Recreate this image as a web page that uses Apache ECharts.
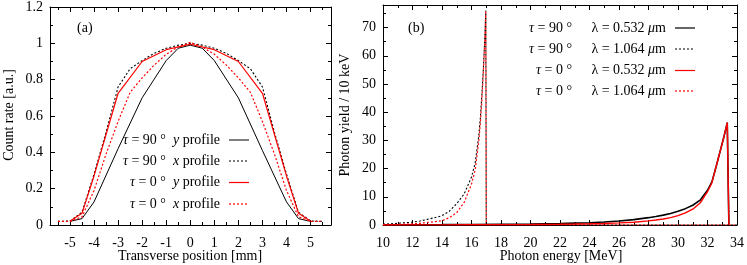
<!DOCTYPE html>
<html><head><meta charset="utf-8">
<script src="https://cdn.jsdelivr.net/npm/echarts@6/dist/echarts.min.js"></script>
<style>html,body{margin:0;padding:0;background:#fff}#c{width:747px;height:265px}</style>
</head><body><div id="c"></div>
<script>
// ---------- Panel (a) data: transverse profiles ----------
const posT90y = [-5,-4.5,-4,-3,-2,-1,-0.5,0,0.5,1,2,3,4,4.5,5];
const rateT90y = [0.02,0.035,0.127,0.42,0.70,0.905,0.973,0.99,0.973,0.905,0.70,0.41,0.127,0.035,0.02];
const posT90x = [-5.5,-5,-4.5,-4,-3.5,-3,-2.5,-2,-1.5,-1,-0.5,0,0.5,1,1.5,2,2.5,3,3.5,4,4.5,5,5.5];
const rateT90x = [0.02,0.022,0.07,0.28,0.51,0.76,0.86,0.905,0.945,0.973,0.99,1.0,0.99,0.973,0.945,0.905,0.86,0.76,0.51,0.28,0.07,0.022,0.02];
const posT0y = [-5,-4.5,-4,-3,-2,-1,0,1,2,3,4,4.5,5];
const rateT0y = [0.02,0.064,0.27,0.725,0.9,0.965,0.995,0.965,0.9,0.725,0.27,0.064,0.02];
const posT0x = [-5.5,-5,-4.5,-4,-3.5,-3,-2.5,-2,-1.5,-1,-0.5,0,0.5,1,1.5,2,2.5,3,3.5,4,4.5,5,5.5];
const rateT0x = [0.02,0.02,0.045,0.19,0.39,0.57,0.73,0.81,0.88,0.94,0.98,1.005,0.98,0.94,0.88,0.81,0.73,0.57,0.39,0.19,0.045,0.02,0.02];

// ---------- Panel (b) data: photon spectra ----------
const energy1064 = [10,11,12,12.5,13,13.5,14,14.5,15,15.5,16,16.25,16.5,16.6,16.7,16.8,16.9,16.97,17.0,20,25,30,34];
const yieldT90_1064 = [0.3,0.6,1.0,1.4,2.0,2.6,3.3,4.9,7.6,11,17,22,32,38,46,55,66,76,0,0,0,0,0];
const yieldT0_1064 = [0.1,0.2,0.4,0.6,0.9,1.2,1.5,2.6,4.4,8.0,14.5,19.5,30,36,44,54,65,76,0,0,0,0,0];
const energy0532 = [10,12,14,16,18,20,22,23,24,25,26,27,28,28.5,29,29.5,30,30.5,31,31.5,32,32.3,32.6,32.9,33.1,33.25,33.34,33.45];
const yieldT90_0532 = [0.05,0.08,0.12,0.18,0.25,0.35,0.5,0.65,0.8,1.05,1.4,1.9,2.6,3.0,3.5,4.1,4.9,5.8,7.0,8.8,12.3,15.3,21,27,31,34.2,36.3,0];
const yieldT0_0532 = [0.02,0.04,0.06,0.09,0.13,0.18,0.25,0.33,0.42,0.55,0.75,1.0,1.45,1.75,2.15,2.6,3.3,4.3,5.6,7.8,11.8,15,21,27,31,34.2,36.3,0];

// ---------- Tick values ----------
const aXMajor = [-5,-4,-3,-2,-1,0,1,2,3,4,5];
const aXMinor = [-5.5,-4.5,-3.5,-2.5,-1.5,-0.5,0.5,1.5,2.5,3.5,4.5,5.5];
const aYMajor = [0,0.2,0.4,0.6,0.8,1,1.2];
const aYMinor = [0.1,0.3,0.5,0.7,0.9,1.1];
const bXMajor = [10,12,14,16,18,20,22,24,26,28,30,32,34];
const bXMinor = [11,13,15,17,19,21,23,25,27,29,31,33];
const bYMajor = [0,10,20,30,40,50,60,70];
const bYMinor = [5,15,25,35,45,55,65,75];

const FONT = '"Liberation Serif","DejaVu Serif",serif';
const RED = '#ff0000';
const zip = (a, b) => a.map((v, i) => [v, b[i]]);

const xAxes = [], yAxes = [];
function addAxis(list, grid, pos, min, max, ticks, len, withLine, withLabel, margin) {
  list.push({
    type: 'value', gridIndex: grid, position: pos, min: min, max: max,
    axisLine: { show: withLine, onZero: false, lineStyle: { color: '#000', width: 1 } },
    axisTick: { show: true, inside: true, length: len, customValues: ticks, lineStyle: { color: '#000', width: 1 } },
    axisLabel: { show: withLabel, customValues: ticks, margin: margin, fontFamily: FONT, fontSize: 14, color: '#000' },
    splitLine: { show: false }
  });
  return list.length - 1;
}
function buildPanel(grid, xmin, xmax, ymin, ymax, xMaj, xMin, yMaj, yMin) {
  const xi = addAxis(xAxes, grid, 'bottom', xmin, xmax, xMaj, 5, true, true, 11);
  addAxis(xAxes, grid, 'top', xmin, xmax, xMaj, 5, true, false, 0);
  addAxis(xAxes, grid, 'bottom', xmin, xmax, xMin, 3, false, false, 0);
  addAxis(xAxes, grid, 'top', xmin, xmax, xMin, 3, false, false, 0);
  const yi = addAxis(yAxes, grid, 'left', ymin, ymax, yMaj, 5, true, true, 7);
  addAxis(yAxes, grid, 'right', ymin, ymax, yMaj, 5, true, false, 0);
  addAxis(yAxes, grid, 'left', ymin, ymax, yMin, 3, false, false, 0);
  addAxis(yAxes, grid, 'right', ymin, ymax, yMin, 3, false, false, 0);
  return [xi, yi];
}
const [ax, ay] = buildPanel(0, -5.83, 5.85, 0, 1.2, aXMajor, aXMinor, aYMajor, aYMinor);
const [bx, by] = buildPanel(1, 10, 34, 0, 78, bXMajor, bXMinor, bYMajor, bYMinor);

function line(x, y, xi, yi, color, dashed, width) {
  return {
    type: 'line', xAxisIndex: xi, yAxisIndex: yi, data: zip(x, y), showSymbol: false,
    lineStyle: { color: color, width: width, type: dashed ? [2, 2] : 'solid' },
    itemStyle: { color: color }, silent: true
  };
}
const series = [
  line(posT90y, rateT90y, ax, ay, '#000', false, 1),
  line(posT90x, rateT90x, ax, ay, '#000', true, 1.1),
  line(posT0y, rateT0y, ax, ay, RED, false, 1.2),
  line(posT0x, rateT0x, ax, ay, RED, true, 1.2),
  line(energy0532, yieldT90_0532, bx, by, '#000', false, 1.6),
  line(energy1064, yieldT90_1064, bx, by, '#000', true, 1.1),
  line(energy0532, yieldT0_0532, bx, by, RED, false, 1.4),
  line(energy1064, yieldT0_1064, bx, by, RED, true, 1.2)
];

const rich = { i: { fontStyle: 'italic', fontFamily: FONT, fontSize: 14, color: '#000' } };
function txt(x, y, text, align, extra) {
  return Object.assign({ type: 'text', x: x, y: y, silent: true,
    style: { text: text, rich: rich, fontFamily: FONT, fontSize: 14, fill: '#000', align: align, verticalAlign: 'middle' } }, extra || {});
}
function sample(x1, x2, y, color, dashed, w) {
  return { type: 'line', silent: true, shape: { x1: x1, y1: y, x2: x2, y2: y },
    style: { stroke: color, lineWidth: w, lineDash: dashed ? [2, 2] : null } };
}
const legA = [
  ['{i|τ} = 90 °  {i|y} profile', '#000', false, 1],
  ['{i|τ} = 90 °  {i|x} profile', '#000', true, 1],
  ['{i|τ} = 0 °  {i|y} profile', RED, false, 1.2],
  ['{i|τ} = 0 °  {i|x} profile', RED, true, 1.2]
];
const legAY = [140, 161, 182.5, 204];
const legB = [
  ['{i|τ} = 90 °', 'λ = 0.532 {i|μ}m', '#000', false, 1.2],
  ['{i|τ} = 90 °', 'λ = 1.064 {i|μ}m', '#000', true, 1],
  ['{i|τ} = 0 °', 'λ = 0.532 {i|μ}m', RED, false, 1.2],
  ['{i|τ} = 0 °', 'λ = 1.064 {i|μ}m', RED, true, 1.2]
];
const legBY = [28, 49, 70.5, 91];
const graphics = [];
legA.forEach((r, i) => {
  graphics.push(txt(220, legAY[i], r[0], 'right'));
  graphics.push(sample(229, 249, legAY[i], r[1], r[2], r[3]));
});
legB.forEach((r, i) => {
  graphics.push(txt(572, legBY[i], r[0], 'right'));
  graphics.push(txt(666, legBY[i], r[1], 'right'));
  graphics.push(sample(675, 695, legBY[i], r[2], r[3], r[4]));
});
graphics.push(txt(77, 28, '(a)', 'left'));
graphics.push(txt(408, 28, '(b)', 'left'));
graphics.push(txt(190, 256, 'Transverse position [mm]', 'center'));
graphics.push(txt(561, 256, 'Photon energy [MeV]', 'center'));
graphics.push(txt(9, 115, 'Count rate [a.u.]', 'center', { rotation: Math.PI / 2 }));
graphics.push(txt(345, 115, 'Photon yield / 10 keV', 'center', { rotation: Math.PI / 2 }));

const chart = echarts.init(document.getElementById('c'), null, { renderer: 'canvas' });
chart.setOption({
  animation: false,
  backgroundColor: '#fff',
  grid: [
    { left: 50, top: 5, width: 281, height: 220 },
    { left: 383, top: 5, width: 355, height: 220 }
  ],
  xAxis: xAxes,
  yAxis: yAxes,
  series: series,
  graphic: graphics
});
</script>
</body></html>
